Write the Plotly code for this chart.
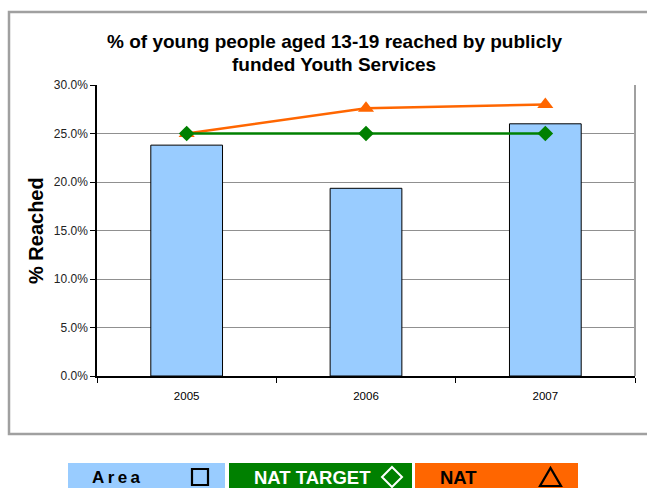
import plotly.graph_objects as go

years = ["2005", "2006", "2007"]
area = [0.238, 0.1935, 0.260]
nat_target = [0.25, 0.25, 0.25]
nat = [0.250, 0.276, 0.280]
y_ticks = [0, 0.05, 0.10, 0.15, 0.20, 0.25, 0.30]

FONT = "Liberation Sans, Arial, sans-serif"

L, R, T, B = 97, 635, 85, 376
W, H = 647, 488
PW, PH = R - L, B - T


def px(x):
    return (x - L) / PW


def py(y):
    return (B - y) / PH


fig = go.Figure()
fig.add_trace(go.Bar(x=years, y=area, name="Area", width=0.4,
                     marker=dict(color="#99CCFF", line=dict(color="#000000", width=1))))
fig.add_trace(go.Scatter(x=years, y=nat, name="NAT", mode="lines+markers",
                         line=dict(color="#FF6600", width=2.5),
                         marker=dict(symbol="triangle-up", size=14, color="#FF6600")))
fig.add_trace(go.Scatter(x=years, y=nat_target, name="NAT TARGET", mode="lines+markers",
                         line=dict(color="#008000", width=2.5),
                         marker=dict(symbol="diamond", size=12, color="#008000")))

shapes = []
# outer chart border
shapes.append(dict(type="rect", xref="paper", yref="paper",
                   x0=px(9), x1=px(660), y0=py(434), y1=py(12),
                   line=dict(color="#A0A0A0", width=2.5), layer="below"))
# plot area right border
shapes.append(dict(type="line", xref="paper", yref="paper",
                   x0=1, x1=1, y0=0, y1=1, line=dict(color="#A0A0A0", width=2)))
# legend boxes
boxes = [(68, 225, "#99CCFF"), (229, 412, "#008000"), (415, 578, "#FF6600")]
for x0, x1, c in boxes:
    shapes.append(dict(type="rect", xref="paper", yref="paper",
                       x0=px(x0), x1=px(x1), y0=py(488), y1=py(463),
                       line=dict(width=0), fillcolor=c))
# square glyph
shapes.append(dict(type="rect", xref="paper", yref="paper",
                   x0=px(192), x1=px(208), y0=py(485), y1=py(469),
                   line=dict(color="#000000", width=2.2)))
# diamond glyph
cx, cy, r = 392, 477, 10
shapes.append(dict(type="path", xref="paper", yref="paper",
                   path=f"M {px(cx)} {py(cy - r)} L {px(cx + r)} {py(cy)} L {px(cx)} {py(cy + r)} L {px(cx - r)} {py(cy)} Z",
                   line=dict(color="#FFFFFF", width=2)))
# triangle glyph
shapes.append(dict(type="path", xref="paper", yref="paper",
                   path=f"M {px(540)} {py(486)} L {px(561)} {py(486)} L {px(550.5)} {py(468)} Z",
                   line=dict(color="#000000", width=2.2)))

TS = "\u2009"
annotations = [
    dict(text="<b>% of young people aged 13-19 reached by publicly</b>",
         xref="paper", yref="paper", x=px(334), y=py(41), showarrow=False,
         font=dict(family=FONT, size=19, color="#000000"), xanchor="center", yanchor="middle"),
    dict(text="<b>funded Youth Services</b>",
         xref="paper", yref="paper", x=px(334), y=py(64), showarrow=False,
         font=dict(family=FONT, size=19, color="#000000"), xanchor="center", yanchor="middle"),
    dict(text="<b>% Reached</b>", xref="paper", yref="paper", x=px(36), y=py(231),
         showarrow=False, textangle=-90,
         font=dict(family=FONT, size=20, color="#000000"), xanchor="center", yanchor="middle"),
    dict(text="<b>" + TS.join("Area") + "</b>", xref="paper", yref="paper", x=px(116), y=py(477),
         showarrow=False, font=dict(family=FONT, size=17, color="#000000"),
         xanchor="center", yanchor="middle"),
    dict(text="<b>NAT TARGET</b>", xref="paper", yref="paper", x=px(312), y=py(477),
         showarrow=False, font=dict(family=FONT, size=18.5, color="#FFFFFF"),
         xanchor="center", yanchor="middle"),
    dict(text="<b>NAT</b>", xref="paper", yref="paper", x=px(458), y=py(477),
         showarrow=False, font=dict(family=FONT, size=18.5, color="#000000"),
         xanchor="center", yanchor="middle"),
]

fig.update_layout(
    width=W, height=H,
    margin=dict(l=L, r=W - R, t=T, b=H - B, pad=0),
    paper_bgcolor="white", plot_bgcolor="white",
    showlegend=False, bargap=0.6,
    font=dict(family=FONT, size=11, color="#000000"),
    shapes=shapes, annotations=annotations,
)
fig.update_xaxes(type="category", tickson="boundaries", ticks="outside", ticklen=5,
                 tickcolor="#000000", showline=True, linecolor="#000000", linewidth=1.5,
                 showgrid=False, ticklabelstandoff=8,
                 tickfont=dict(family=FONT, size=11.5, color="#000000"))
fig.update_yaxes(range=[0, 0.30], tickvals=y_ticks, tickformat=".1%", ticks="outside",
                 ticklen=5, tickcolor="#000000", showline=True, linecolor="#000000",
                 linewidth=1.5, showgrid=True, gridcolor="#909090", gridwidth=1,
                 zeroline=False, tickfont=dict(family=FONT, size=12, color="#222222"))

fig.write_html("out.html", config={"displayModeBar": False},
               post_script="document.body.style.margin='0';document.body.style.overflow='hidden';")
